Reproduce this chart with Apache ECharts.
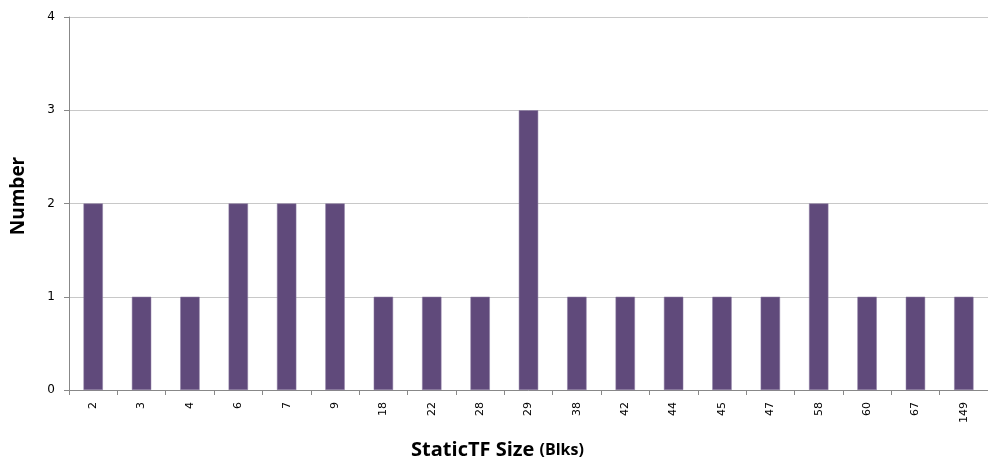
<!DOCTYPE html>
<html>
<head>
<meta charset="utf-8">
<script src="https://cdn.jsdelivr.net/npm/echarts@6/dist/echarts.min.js"></script>
<style>
  html, body { margin: 0; padding: 0; background: #fff; }
  #chart { width: 988px; height: 461px; }
</style>
</head>
<body>
<div id="chart"></div>
<script>
// Block sizes of static TFs and how many of each
const sizes = ['2', '3', '4', '6', '7', '9', '18', '22', '28', '29', '38', '42', '44', '45', '47', '58', '60', '67', '149'];
const counts = [2, 1, 1, 2, 2, 2, 1, 1, 1, 3, 1, 1, 1, 1, 1, 2, 1, 1, 1];
const yTicks = [0, 1, 2, 3, 4];

const chart = echarts.init(document.getElementById('chart'));
chart.setOption({
  animation: false,
  grid: { left: 69, right: 0, top: 17, bottom: 71, containLabel: false, outerBoundsMode: 'none' },
  xAxis: {
    type: 'category',
    data: sizes,
    name: '{a|StaticTF Size }{b|(Blks)}',
    nameLocation: 'middle',
    nameGap: 46,
    nameTextStyle: {
      padding: [0, 62, 0, 0],
      rich: {
        a: { fontFamily: 'Open Sans', fontWeight: 'bold', fontSize: 20, color: '#000', verticalAlign: 'bottom', lineHeight: 24 },
        b: { fontFamily: 'Open Sans', fontWeight: 'bold', fontSize: 16, color: '#000', verticalAlign: 'bottom', lineHeight: 24, padding: [0, 0, 2, 0] }
      }
    },
    axisLine: { lineStyle: { color: '#888', width: 1 } },
    axisTick: { show: true, length: 5, lineStyle: { color: '#888' } },
    axisLabel: {
      rotate: 90,
      interval: 0,
      margin: 12,
      fontFamily: 'DejaVu Sans',
      fontSize: 11,
      color: '#000'
    }
  },
  yAxis: {
    type: 'value',
    min: yTicks[0],
    max: yTicks[yTicks.length - 1],
    interval: 1,
    name: 'Number',
    nameLocation: 'middle',
    nameGap: 41,
    nameTextStyle: { fontFamily: 'Open Sans', fontWeight: 'bold', fontSize: 19, color: '#000', padding: [0, 0, 0, 15] },
    axisLine: { show: true, lineStyle: { color: '#888', width: 1 } },
    axisTick: { show: true, length: 5, inside: false, lineStyle: { color: '#888' } },
    axisLabel: { fontFamily: 'DejaVu Sans', fontSize: 12, color: '#000', margin: 14 },
    splitLine: { lineStyle: { color: '#c8c8c8', width: 1 } }
  },
  series: [{
    type: 'bar',
    data: counts,
    barWidth: '40%',
    itemStyle: { color: '#604a7b', borderColor: '#8c7ca3', borderWidth: 0.5 }
  }]
});
</script>
</body>
</html>
